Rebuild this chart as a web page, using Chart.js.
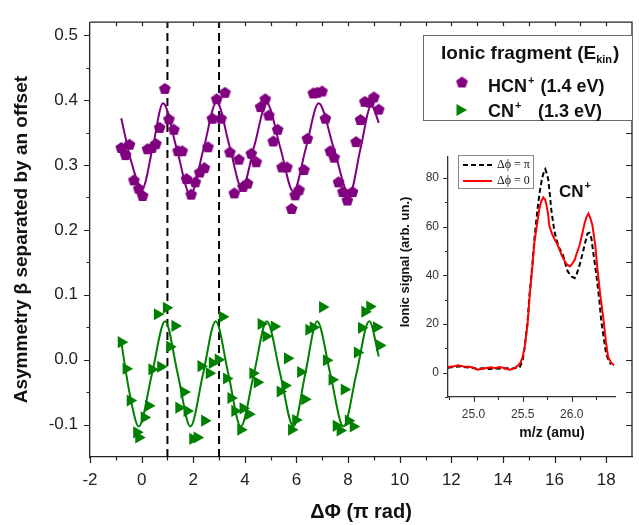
<!DOCTYPE html>
<html><head><meta charset="utf-8">
<script src="https://cdn.jsdelivr.net/npm/chart.js@4/dist/chart.umd.min.js"></script>
<style>
html,body{margin:0;padding:0;background:#fff;}
#wrap{position:relative;width:639px;height:525px;overflow:hidden;}
#main{position:absolute;left:0;top:0;width:639px;height:525px;}
#inset{position:absolute;left:390px;top:140px;width:240px;height:305px;}
</style></head><body>
<div id="wrap"><canvas id="main" width="639" height="525"></canvas><canvas id="inset" width="240" height="305"></canvas></div>
<script>
// ---------- main chart data ----------
const hcnX = [-0.79,-0.62,-0.47,-0.30,-0.11,0.04,0.23,0.40,0.55,0.70,0.90,1.06,1.25,1.41,1.57,1.74,1.92,2.08,2.25,2.43,2.57,2.74,2.91,3.08,3.23,3.42,3.59,3.77,3.93,4.10,4.25,4.44,4.61,4.79,4.93,5.10,5.27,5.44,5.63,5.81,5.95,6.10,6.29,6.42,6.65,6.80,6.99,7.12,7.31,7.46,7.63,7.80,7.97,8.17,8.31,8.48,8.65,8.84,9.00,9.19];
const hcnY = [0.327,0.316,0.332,0.277,0.264,0.253,0.325,0.327,0.333,0.358,0.418,0.371,0.355,0.322,0.322,0.279,0.255,0.274,0.289,0.296,0.328,0.372,0.402,0.372,0.412,0.320,0.257,0.309,0.267,0.272,0.318,0.305,0.390,0.402,0.377,0.337,0.355,0.297,0.297,0.233,0.254,0.262,0.293,0.341,0.411,0.412,0.414,0.372,0.322,0.312,0.274,0.259,0.246,0.259,0.336,0.370,0.398,0.397,0.405,0.386];
const cnX = [-0.79,-0.60,-0.44,-0.19,-0.11,0.10,0.27,0.40,0.61,0.74,0.96,1.09,1.29,1.44,1.64,1.76,1.98,2.15,2.30,2.44,2.62,2.74,2.97,3.13,3.29,3.46,3.61,3.84,3.93,4.15,4.31,4.48,4.63,4.82,5.14,5.37,5.55,5.65,5.81,5.97,6.16,6.32,6.48,6.65,7.01,7.16,7.38,7.54,7.69,7.85,8.01,8.20,8.36,8.52,8.65,8.84,9.10,9.22];
const cnY = [0.027,-0.014,-0.063,-0.112,-0.120,-0.089,-0.071,-0.015,0.070,-0.011,0.080,0.020,0.052,-0.074,-0.050,-0.079,-0.122,-0.120,-0.010,-0.094,-0.021,-0.005,0.000,0.066,-0.029,-0.059,-0.079,-0.108,-0.075,-0.084,-0.021,-0.035,0.055,0.036,0.051,-0.049,-0.040,0.002,-0.108,-0.093,-0.019,-0.061,0.046,0.050,0.081,-0.001,-0.031,-0.102,-0.109,-0.046,-0.094,-0.103,0.011,0.049,0.074,0.082,0.050,0.022];
// fitted curves (extrema and mid-points)
const hcnFitX = [-0.79,-0.40,0.02,0.42,0.83,1.36,1.89,2.40,2.91,3.40,3.89,4.37,4.85,5.37,5.88,6.37,6.86,7.45,8.05,8.48,8.90,9.19];
const hcnFitY = [0.372,0.305,0.263,0.325,0.395,0.325,0.254,0.325,0.397,0.330,0.264,0.330,0.395,0.327,0.259,0.327,0.395,0.325,0.254,0.325,0.392,0.365];
const cnFitX = [-0.79,-0.45,-0.11,0.40,0.91,1.40,1.89,2.38,2.87,3.36,3.84,4.35,4.85,5.37,5.88,6.34,6.80,7.31,7.82,8.32,8.82,9.19];
const cnFitY = [0.027,-0.055,-0.103,-0.022,0.059,-0.022,-0.103,-0.022,0.059,-0.022,-0.103,-0.022,0.059,-0.022,-0.103,-0.022,0.059,-0.022,-0.103,-0.022,0.059,0.005];
const markerLinesX = [1, 3];
const xMajorTicks = [-2,0,2,4,6,8,10,12,14,16,18];
const xMinorTicks = [-1,1,3,5,7,9,11,13,15,17];
const xTopTicks = [-1,0,1,2,3,4,5,6,7,8,9,10,11,12,13,14,15,16,17,18];
const yMajorTicks = [-0.1,0.0,0.1,0.2,0.3,0.4,0.5];
const yMinorTicks = [-0.05,0.05,0.15,0.25,0.35,0.45];
const yRightTicks = [-0.1,-0.05,0,0.05,0.1,0.15,0.2,0.25,0.3,0.35,0.4,0.45,0.5];

// ---------- inset data (mass spectrum) ----------
const redX = [24.74,24.80,24.84,24.90,24.96,25.00,25.04,25.08,25.13,25.18,25.22,25.26,25.30,25.34,25.37,25.40,25.43,25.46,25.48,25.50,25.52,25.55,25.57,25.60,25.62,25.65,25.67,25.69,25.71,25.73,25.74,25.76,25.77,25.80,25.82,25.85,25.87,25.90,25.94,25.96,25.98,26.00,26.03,26.05,26.08,26.10,26.13,26.15,26.17,26.19,26.21,26.24,26.26,26.29,26.32,26.35,26.37,26.40,26.43];
const redY = [2.3,2.6,3.0,2.5,2.4,2.0,1.2,1.5,1.9,2.2,1.8,2.3,2.0,1.5,1.2,1.6,2.3,3.2,4.3,6.5,10.4,20,30.8,44,53.8,62,67.4,70.5,72.1,71,69.4,65,60.6,57,55.2,53,51.1,48,45.0,44.2,43.7,44.5,46.4,49,52.5,56,61.3,64,65.4,63.5,60.6,52,43.0,32,22.6,12,6.4,4.2,3.0];
const blackX = [24.74,24.80,24.86,24.92,24.98,25.04,25.10,25.16,25.22,25.28,25.34,25.40,25.44,25.47,25.50,25.52,25.55,25.57,25.60,25.62,25.64,25.66,25.68,25.70,25.72,25.73,25.745,25.76,25.78,25.79,25.82,25.84,25.87,25.91,25.94,25.96,26.00,26.03,26.05,26.08,26.11,26.13,26.16,26.18,26.20,26.22,26.25,26.28,26.30,26.33,26.35,26.38,26.40];
const blackY = [2.0,2.4,2.6,2.2,2.0,1.6,1.8,1.5,1.7,1.6,1.8,1.7,2.0,2.3,5,10.4,21,32.1,45,55.2,63,70.1,76,80.3,83,83.7,82,79.6,72,67.4,59,55.2,51.5,48.4,44,41.6,39.5,38.9,40.5,44.3,49,52.5,57.2,57.5,55.2,49,40.3,30,21.3,13,7.7,4.5,3.4];
const insetYMajor = [0,20,40,60,80];
const insetYMinor = [-10,10,30,50,70];
const insetXMajor = [25.0,25.5,26.0];
const insetXMinor = [24.75,25.25,25.75,26.25];

const zip = (xs, ys) => xs.map((x, i) => ({x: x, y: ys[i]}));
const PURPLE = '#800080', GREEN = '#008000';
const SANS = "'Liberation Sans', Arial, sans-serif";
const SERIF = "'Liberation Serif', 'Times New Roman', serif";
const AXIS = '#222';

function makePentagon(r, color) {
  const c = document.createElement('canvas');
  const s = Math.ceil(2 * r + 2);
  c.width = s; c.height = s;
  const g = c.getContext('2d');
  g.fillStyle = color;
  g.beginPath();
  for (let i = 0; i < 5; i++) {
    const a = -Math.PI / 2 + i * 2 * Math.PI / 5;
    const px = s / 2 + r * Math.cos(a), py = s / 2 + 0.6 + r * Math.sin(a);
    if (i === 0) g.moveTo(px, py); else g.lineTo(px, py);
  }
  g.closePath(); g.fill();
  return c;
}
const pent = makePentagon(6.2, PURPLE);

function drawTri(ctx, x, y, r, color) {
  ctx.fillStyle = color;
  ctx.beginPath();
  for (let i = 0; i < 3; i++) {
    const a = i * 2 * Math.PI / 3;
    const px = x + r * Math.cos(a), py = y + r * Math.sin(a);
    if (i === 0) ctx.moveTo(px, py); else ctx.lineTo(px, py);
  }
  ctx.closePath(); ctx.fill();
}

function supText(ctx, base, sup, x, y, size, supSize, rise) {
  ctx.font = 'bold ' + size + 'px ' + SANS;
  ctx.fillText(base, x, y);
  let w = ctx.measureText(base).width;
  ctx.font = 'bold ' + supSize + 'px ' + SANS;
  ctx.fillText(sup, x + w + 1, y - rise);
  return x + w + 1 + ctx.measureText(sup).width;
}

const mainDeco = {
  id: 'mainDeco',
  afterDraw(chart) {
    const ctx = chart.ctx, a = chart.chartArea, xs = chart.scales.x, ys = chart.scales.y;
    ctx.save();
    ctx.strokeStyle = AXIS; ctx.lineWidth = 1.3;
    ctx.beginPath();
    ctx.moveTo(a.left, a.top); ctx.lineTo(a.right, a.top); ctx.lineTo(a.right, a.bottom);
    ctx.stroke();
    ctx.lineWidth = 1.2;
    ctx.beginPath();
    xMajorTicks.forEach(v => { const p = Math.round(xs.getPixelForValue(v)) + 0.5; ctx.moveTo(p, a.bottom); ctx.lineTo(p, a.bottom + 6); });
    xMinorTicks.forEach(v => { const p = Math.round(xs.getPixelForValue(v)) + 0.5; ctx.moveTo(p, a.bottom); ctx.lineTo(p, a.bottom + 3.5); });
    xTopTicks.forEach(v => { const p = Math.round(xs.getPixelForValue(v)) + 0.5; ctx.moveTo(p, a.top); ctx.lineTo(p, a.top + 4); });
    yMajorTicks.forEach(v => { const p = Math.round(ys.getPixelForValue(v)) + 0.5; ctx.moveTo(a.left, p); ctx.lineTo(a.left - 6, p); });
    yMinorTicks.forEach(v => { const p = Math.round(ys.getPixelForValue(v)) + 0.5; ctx.moveTo(a.left, p); ctx.lineTo(a.left - 3.5, p); });
    yRightTicks.forEach(v => { const p = Math.round(ys.getPixelForValue(v)) + 0.5; ctx.moveTo(a.right, p); ctx.lineTo(a.right - 6, p); });
    ctx.stroke();

    // legend box
    ctx.fillStyle = '#fff'; ctx.fillRect(423, 35, 209, 86);
    ctx.strokeStyle = '#666'; ctx.lineWidth = 1; ctx.strokeRect(423.5, 35.5, 209, 85);
    ctx.fillStyle = '#111'; ctx.textBaseline = 'alphabetic'; ctx.textAlign = 'left';
    ctx.font = 'bold 19px ' + SANS;
    const t1 = 'Ionic fragment (E';
    ctx.fillText(t1, 441, 59);
    let w = ctx.measureText(t1).width;
    ctx.font = 'bold 11px ' + SANS;
    ctx.fillText('kin', 441 + w, 63);
    const w2 = ctx.measureText('kin').width;
    ctx.font = 'bold 19px ' + SANS;
    ctx.fillText(')', 441 + w + w2 + 1, 59);

    ctx.drawImage(pent, 462 - pent.width / 2, 82 - pent.height / 2);
    drawTri(ctx, 460, 110, 7, GREEN);
    ctx.fillStyle = '#111';
    let e = supText(ctx, 'HCN', '+', 488, 92, 18, 11, 8);
    ctx.font = 'bold 18px ' + SANS;
    ctx.fillText(' (1.4 eV)', e + 1, 92);
    supText(ctx, 'CN', '+', 488, 117, 18, 11, 8);
    ctx.font = 'bold 18px ' + SANS;
    ctx.fillText('(1.3 eV)', 538, 117);
    ctx.restore();
  }
};

const mainDatasets = [
  {label: 'HCN+ (1.4 eV)', data: zip(hcnX, hcnY), showLine: false, pointStyle: pent, pointRadius: 6, backgroundColor: PURPLE, borderColor: PURPLE},
  {label: 'CN+ (1.3 eV)', data: zip(cnX, cnY), showLine: false, pointStyle: 'triangle', rotation: 90, pointRadius: 7, backgroundColor: GREEN, borderColor: GREEN, borderWidth: 0},
  {label: 'HCN fit', data: zip(hcnFitX, hcnFitY), showLine: true, pointRadius: 0, borderColor: PURPLE, borderWidth: 2, cubicInterpolationMode: 'monotone', fill: false},
  {label: 'CN fit', data: zip(cnFitX, cnFitY), showLine: true, pointRadius: 0, borderColor: GREEN, borderWidth: 2, cubicInterpolationMode: 'monotone', fill: false}
];
markerLinesX.forEach(v => mainDatasets.push({label: 'marker ' + v, data: [{x: v, y: -0.15}, {x: v, y: 0.52}], showLine: true, pointRadius: 0, borderColor: '#000', borderWidth: 2, borderDash: [8, 5]}));

new Chart(document.getElementById('main'), {
  type: 'scatter',
  data: {datasets: mainDatasets},
  options: {
    responsive: false, animation: false, events: [],
    layout: {padding: {top: 12, right: 1, left: 0, bottom: 0}},
    plugins: {legend: {display: false}, tooltip: {enabled: false}},
    scales: {
      x: {
        type: 'linear', min: -2, max: 19,
        afterBuildTicks: s => { s.ticks = xMajorTicks.map(v => ({value: v})); },
        afterFit: s => { s.height = 68; },
        grid: {display: false, drawTicks: false},
        border: {display: true, color: AXIS, width: 1.3},
        ticks: {autoSkip: false, maxRotation: 0, padding: 13, color: '#222', font: {family: SANS, size: 17}, callback: v => String(v)},
        title: {display: true, text: 'ΔΦ (π rad)', color: '#111', font: {family: SANS, size: 20, weight: 'bold'}, padding: {top: 0, bottom: 1}}
      },
      y: {
        type: 'linear', min: -0.15, max: 0.52,
        afterBuildTicks: s => { s.ticks = yMajorTicks.map(v => ({value: v})); },
        afterFit: s => { s.width = 90; },
        grid: {display: false, drawTicks: false},
        border: {display: true, color: AXIS, width: 1.3},
        ticks: {autoSkip: false, padding: 12, color: '#222', font: {family: SANS, size: 17}, callback: v => v.toFixed(1)},
        title: {display: true, text: 'Asymmetry β separated by an offset', color: '#111', font: {family: SANS, size: 19, weight: 'bold'}, padding: {top: 10, bottom: 0}}
      }
    }
  },
  plugins: [mainDeco]
});

// ---------- inset ----------
const insetDeco = {
  id: 'insetDeco',
  afterDraw(chart) {
    const ctx = chart.ctx, a = chart.chartArea, xs = chart.scales.x, ys = chart.scales.y;
    ctx.save();
    ctx.strokeStyle = '#333'; ctx.lineWidth = 1.1;
    ctx.beginPath();
    insetYMajor.forEach(v => { const p = Math.round(ys.getPixelForValue(v)) + 0.5; ctx.moveTo(a.left, p); ctx.lineTo(a.left - 5, p); });
    insetYMinor.forEach(v => { const p = Math.round(ys.getPixelForValue(v)) + 0.5; ctx.moveTo(a.left, p); ctx.lineTo(a.left - 3, p); });
    insetXMajor.forEach(v => { const p = Math.round(xs.getPixelForValue(v)) + 0.5; ctx.moveTo(p, a.bottom); ctx.lineTo(p, a.bottom + 5); });
    insetXMinor.forEach(v => { const p = Math.round(xs.getPixelForValue(v)) + 0.5; ctx.moveTo(p, a.bottom); ctx.lineTo(p, a.bottom + 3); });
    ctx.stroke();
    // axis titles
    ctx.fillStyle = '#111'; ctx.textAlign = 'center'; ctx.textBaseline = 'middle';
    ctx.font = 'bold 14px ' + SANS;
    ctx.fillText('m/z (amu)', 162, 293);
    ctx.save();
    ctx.translate(15, 122); ctx.rotate(-Math.PI / 2);
    ctx.font = 'bold 13px ' + SANS;
    ctx.fillText('Ionic signal (arb. un.)', 0, 0);
    ctx.restore();
    // CN+ label
    ctx.textAlign = 'left'; ctx.textBaseline = 'alphabetic';
    supText(ctx, 'CN', '+', 169, 57, 17, 11, 8);
    // legend
    ctx.fillStyle = '#fff'; ctx.fillRect(68, 15, 75, 33);
    ctx.strokeStyle = '#888'; ctx.lineWidth = 1; ctx.strokeRect(68.5, 15.5, 75, 33);
    ctx.lineWidth = 2;
    ctx.strokeStyle = '#000'; ctx.setLineDash([5, 3]);
    ctx.beginPath(); ctx.moveTo(73, 25); ctx.lineTo(102, 25); ctx.stroke();
    ctx.setLineDash([]);
    ctx.strokeStyle = '#ff0000';
    ctx.beginPath(); ctx.moveTo(73, 41); ctx.lineTo(102, 41); ctx.stroke();
    ctx.fillStyle = '#111'; ctx.textBaseline = 'middle';
    ctx.font = '12px ' + SERIF;
    ctx.fillText('Δϕ = π', 107, 25);
    ctx.fillText('Δϕ = 0', 107, 41);
    ctx.restore();
  }
};

new Chart(document.getElementById('inset'), {
  type: 'scatter',
  data: {datasets: [
    {label: 'Δϕ = 0', data: zip(redX, redY), showLine: true, pointRadius: 0, borderColor: '#ff0000', borderWidth: 2, tension: 0},
    {label: 'Δϕ = π', data: zip(blackX, blackY), showLine: true, pointRadius: 0, borderColor: '#000', borderWidth: 2, borderDash: [5, 3], tension: 0}
  ]},
  options: {
    responsive: false, animation: false, events: [],
    layout: {padding: {top: 13, right: 15, left: 0, bottom: 0}},
    plugins: {legend: {display: false}, tooltip: {enabled: false}},
    scales: {
      x: {
        type: 'linear', min: 24.74, max: 26.44,
        afterBuildTicks: s => { s.ticks = insetXMajor.map(v => ({value: v})); },
        afterFit: s => { s.height = 48; },
        grid: {display: false, drawTicks: false},
        border: {display: true, color: '#333', width: 1.3},
        ticks: {autoSkip: false, maxRotation: 0, padding: 10, color: '#333', font: {family: SANS, size: 12}, callback: v => v.toFixed(1)}
      },
      y: {
        type: 'linear', min: -10, max: 89,
        afterBuildTicks: s => { s.ticks = insetYMajor.map(v => ({value: v})); },
        afterFit: s => { s.width = 58; },
        grid: {display: false, drawTicks: false},
        border: {display: true, color: '#333', width: 1.3},
        ticks: {autoSkip: false, padding: 9, color: '#333', font: {family: SANS, size: 12}, callback: v => String(v)}
      }
    }
  },
  plugins: [insetDeco]
});
</script>
</body></html>
